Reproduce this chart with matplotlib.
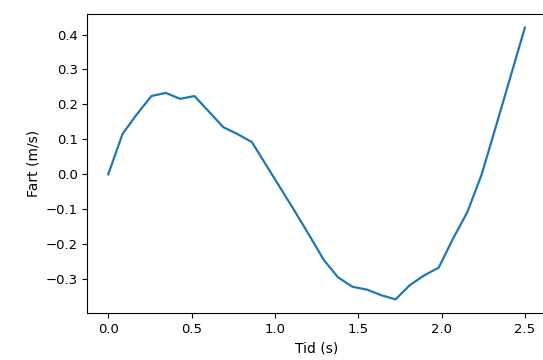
import matplotlib.pyplot as plt

tid = [0.0, 0.086, 0.172, 0.259, 0.345, 0.431, 0.517, 0.603, 0.690, 0.776,
       0.862, 0.948, 1.034, 1.121, 1.207, 1.293, 1.379, 1.466, 1.552, 1.638,
       1.724, 1.810, 1.897, 1.983, 2.069, 2.155, 2.241, 2.328, 2.414, 2.5]
fart = [0.0, 0.116, 0.172, 0.224, 0.233, 0.216, 0.224, 0.180, 0.135, 0.115,
        0.092, 0.026, -0.040, -0.107, -0.175, -0.245, -0.295, -0.322, -0.330, -0.346,
        -0.358, -0.317, -0.289, -0.267, -0.184, -0.108, 0.0, 0.14, 0.28, 0.42]

plt.rcParams['font.size'] = 9.5

fig = plt.figure(figsize=(5.43, 3.6), dpi=100)
ax = fig.add_axes([0.161, 0.1306, 0.844, 0.8306])
ax.plot(tid, fart, color='#1f77b4', linewidth=1.6)

ax.set_xlabel('Tid (s)', fontsize=10)
ax.set_ylabel('Fart (m/s)', fontsize=10)
ax.set_xticks([0.0, 0.5, 1.0, 1.5, 2.0, 2.5])
ax.set_yticks([-0.3, -0.2, -0.1, 0.0, 0.1, 0.2, 0.3, 0.4])

fig.savefig('out.png', dpi=100)
